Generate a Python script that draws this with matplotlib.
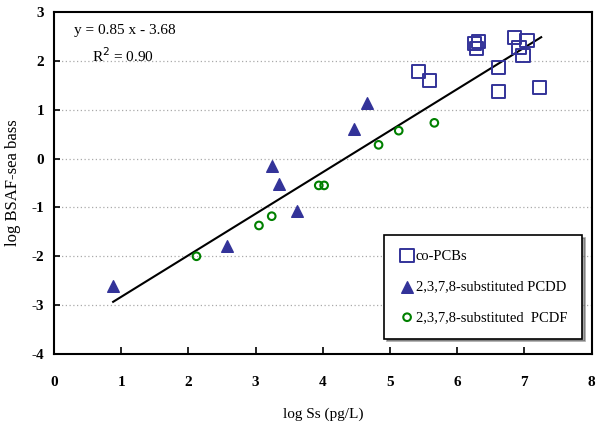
import matplotlib
matplotlib.use("Agg")
import matplotlib.pyplot as plt
import numpy as np

pcb_x = [5.42, 5.59, 6.26, 6.29, 6.32, 6.85, 6.92, 7.04, 6.98, 6.61, 6.62, 7.22]
pcb_y = [1.78, 1.60, 2.35, 2.25, 2.39, 2.47, 2.27, 2.41, 2.11, 1.86, 1.37, 1.45]

pcdd_x = [0.88, 2.57, 3.25, 3.35, 3.62, 4.47, 4.66]
pcdd_y = [-2.60, -1.78, -0.15, -0.53, -1.08, 0.61, 1.13]

pcdf_x = [2.12, 3.05, 3.24, 3.94, 4.02, 4.83, 5.13, 5.66]
pcdf_y = [-2.00, -1.37, -1.18, -0.55, -0.55, 0.28, 0.57, 0.73]

slope, intercept = 0.85, -3.68
fit_x = [0.88, 7.25]

xticks = [0, 1, 2, 3, 4, 5, 6, 7, 8]
yticks = [-4, -3, -2, -1, 0, 1, 2, 3]

plt.rcParams['font.family'] = ['Liberation Serif', 'DejaVu Serif']
plt.rcParams['axes.unicode_minus'] = False

fig = plt.figure(figsize=(5.96, 4.25), dpi=100)
ax = fig.add_axes([0.0906, 0.167, 0.902, 0.805])

for yv in yticks[1:-1]:
    ax.axhline(yv, color='#aaaaaa', linestyle=(0, (1, 2)), linewidth=0.9, zorder=0)

fx = np.array(fit_x)
ax.plot(fx, slope * fx + intercept, color='black', linewidth=1.5, zorder=2)

ax.scatter(pcb_x, pcb_y, marker='s', s=90, facecolors='none', edgecolors='#333399',
           linewidths=1.4, label='co-PCBs', zorder=3)
ax.scatter(pcdd_x, pcdd_y, marker='^', s=70, color='#333399',
           label='2,3,7,8-substituted PCDD', zorder=3)
ax.scatter(pcdf_x, pcdf_y, marker='o', s=30, facecolors='none', edgecolors='#008000',
           linewidths=1.5, label='2,3,7,8-substituted  PCDF', zorder=3)

ax.set_xlim(0, 8)
ax.set_ylim(-4, 3)
ax.set_xticks(xticks)
ax.set_yticks(yticks)
ax.tick_params(axis='x', direction='in', length=5, width=1.2, pad=16, labelsize=11)
ax.tick_params(axis='y', direction='in', length=4, width=1.2, pad=7, labelsize=11)
for lab in ax.get_xticklabels() + ax.get_yticklabels():
    lab.set_fontweight('bold')
for sp in ax.spines.values():
    sp.set_linewidth(1.5)

ax.set_xlabel('log Ss (pg/L)', fontsize=11)
ax.set_ylabel('log BSAF-sea bass', fontsize=12)
ax.xaxis.set_label_coords(0.5, -0.155)
ax.yaxis.set_label_coords(-0.062, 0.5)

ax.text(0.3, 2.62, 'y = 0.85 x - 3.68', fontsize=11, ha='left', va='center')
ax.text(0.57, 2.1, r'R$^{2}$ = 0.90', fontsize=11, ha='left', va='center')

leg = ax.legend(loc='lower right', bbox_to_anchor=(0.982, 0.045), frameon=True,
                fancybox=False, shadow=True, edgecolor='black', fontsize=10.5,
                handletextpad=0.0, labelspacing=1.2, borderpad=1.0, handlelength=1.2,
                borderaxespad=0)
leg.get_frame().set_linewidth(1.2)

fig.savefig('out.png', dpi=100)
